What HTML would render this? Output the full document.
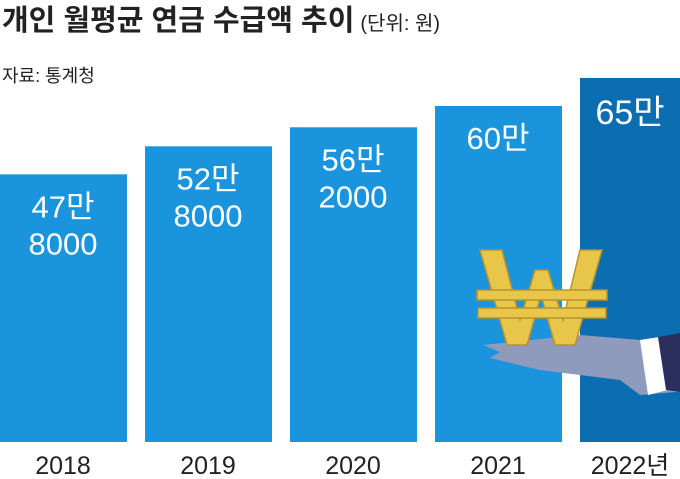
<!DOCTYPE html>
<html><head><meta charset="utf-8"><style>
body{margin:0;background:#fff;}
svg{display:block;font-family:"Liberation Sans","Noto Sans CJK KR",sans-serif;}
</style></head><body>
<svg id="chart" width="680" height="479" viewBox="0 0 680 479">
<text x="2" y="30" font-size="29" font-weight="bold" fill="#222">개인 월평균 연금 수급액 추이<tspan font-size="20" font-weight="normal" dx="6">(단위: 원)</tspan></text>
<text x="2" y="82" font-size="18" fill="#222">자료: 통계청</text>
<g id="bars"></g>
<g id="decor">
<polygon points="483,345 580,335 640,340 700,330 700,390 640,395 620,380 540,370 490,358 500,352" fill="#8e9bbd"/>
<polygon points="640,340 660,337 668,390 648,395" fill="#fff"/>
<polygon points="658,337 680,333 680,392 666,390" fill="#2a2f5e"/>
<g fill="#e8c64a" stroke="#b8942a" stroke-width="1.5">
<polygon points="480,250 502,250 520,320 535,270 548,270 563,320 580,250 602,250 575,345 555,345 541,295 527,345 507,345"/>
<rect x="477" y="290" width="130" height="10"/>
<rect x="478" y="308" width="128" height="10"/>
</g>
</g>
</svg>
<script>
const years=["2018","2019","2020","2021","2022년"];
const values=[478000,528000,562000,600000,650000];
const line1=["47만","52만","56만","60만","65만"];
const line2=["8000","8000","2000","",""];
const base=442, pxPer=0.56/1000;
const xs=i=>i*145;
const y=v=>base-v*pxPer;
const g=document.getElementById('bars');
const ns="http://www.w3.org/2000/svg";
values.forEach((v,i)=>{
  const last=i===values.length-1;
  const r=document.createElementNS(ns,'rect');
  
  
  r.setAttribute('x',xs(i)); r.setAttribute('y',y(v));
  r.setAttribute('width',last?100:127); r.setAttribute('height',base-y(v));
  r.setAttribute('fill',last?'#0a6eb0':'#1a95dd');
  g.appendChild(r);
  const cx=xs(i)+(last?50:63);
  const t=document.createElementNS(ns,'text');
  
  
  t.setAttribute('x',cx); t.setAttribute('y',y(v)+(last?46:43));
  t.setAttribute('text-anchor','middle'); t.setAttribute('fill','#fff');
  t.setAttribute('font-size',last?34:31);
  t.textContent=line1[i]; g.appendChild(t);
  if(line2[i]){
    const t2=document.createElementNS(ns,'text');
    
    
    t2.setAttribute('x',cx); t2.setAttribute('y',y(v)+80);
    t2.setAttribute('text-anchor','middle'); t2.setAttribute('fill','#fff');
    t2.setAttribute('font-size',31);
    t2.textContent=line2[i]; g.appendChild(t2);
  }
  const xl=document.createElementNS(ns,'text');
  
  
  xl.setAttribute('x',cx); xl.setAttribute('y',474);
  xl.setAttribute('text-anchor','middle'); xl.setAttribute('fill','#222');
  xl.setAttribute('font-size',25);
  xl.textContent=years[i]; g.appendChild(xl);
});
</script>
</body></html>
